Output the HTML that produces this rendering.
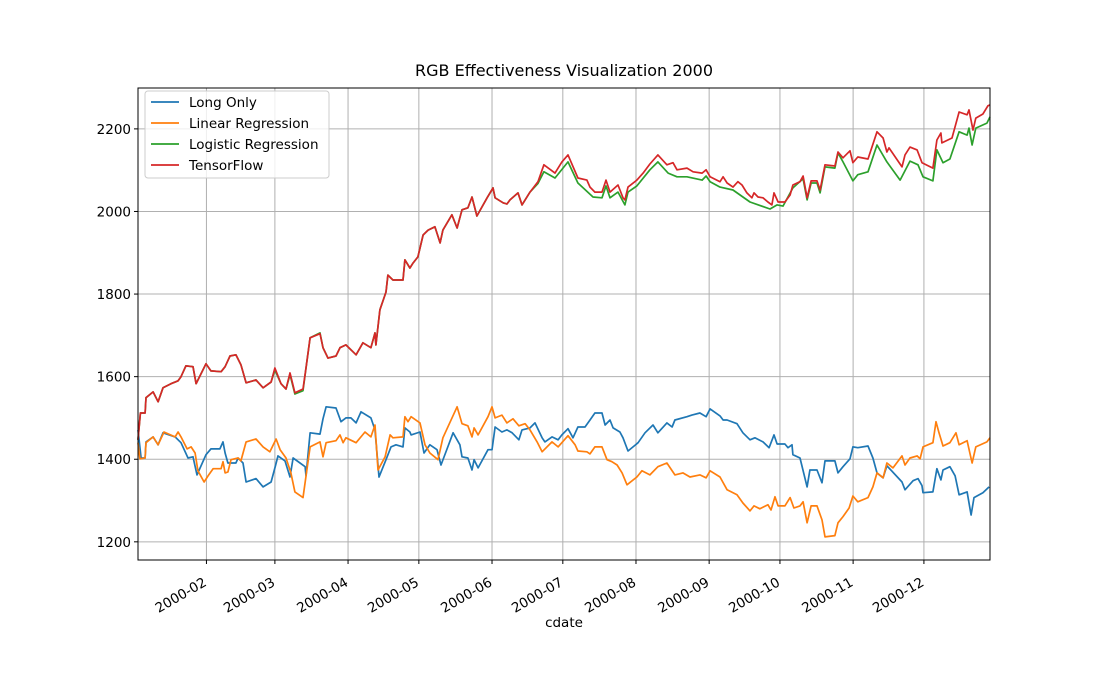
<!DOCTYPE html>
<html><head><meta charset="utf-8"><style>
body{margin:0;background:#fff;}
svg{display:block;font-family:"DejaVu Sans","Liberation Sans",sans-serif;}
</style></head><body>
<svg id="chart" width="1100" height="700" viewBox="0 0 1100 700">
<rect width="1100" height="700" fill="#fff"/>
<text x="564" y="76" text-anchor="middle" font-size="16" fill="#000">RGB Effectiveness Visualization 2000</text>
<g id="grid"></g>
<g id="series"></g>
<rect x="138" y="88" width="852" height="472" fill="none" stroke="#000" stroke-width="1"/>
<g id="axes"></g>
<text x="564" y="627" text-anchor="middle" font-size="13.5" fill="#000">cdate</text>
<g>
<rect x="145" y="91" width="184" height="87" rx="3" fill="#fff" fill-opacity="0.8" stroke="#ccc"/>
<g><line x1="151" y1="102" x2="179" y2="102" stroke="#1f77b4" stroke-width="1.7"/><text x="189" y="107" font-size="13.5">Long Only</text></g>
<g><line x1="151" y1="123" x2="179" y2="123" stroke="#ff7f0e" stroke-width="1.7"/><text x="189" y="128" font-size="13.5">Linear Regression</text></g>
<g><line x1="151" y1="144" x2="179" y2="144" stroke="#2ca02c" stroke-width="1.7"/><text x="189" y="149" font-size="13.5">Logistic Regression</text></g>
<g><line x1="151" y1="165" x2="179" y2="165" stroke="#d62728" stroke-width="1.7"/><text x="189" y="170" font-size="13.5">TensorFlow</text></g>
</g>
</svg>
<script>
// days since 2000-01-03
const monthTickDays = [29,58,89,119,150,180,211,242,272,303,333];
const monthTickLabels = ["2000-02","2000-03","2000-04","2000-05","2000-06","2000-07","2000-08","2000-09","2000-10","2000-11","2000-12"];
const yTicks = [1200,1400,1600,1800,2000,2200];

const redDays = [0,1,3,3.4,6.4,8.5,10.6,14,17,18.2,20.3,23.3,24.6,28.8,30.9,35.2,36.9,39,41.5,43.6,45.8,50,53,56.4,58,60.6,62.7,64.4,66.5,69.9,71.2,72.9,77.1,78.4,80.5,83.9,85.6,88.1,92.4,95.3,98.7,100.4,100.8,102.5,105.1,105.9,108,112.3,113.1,115.2,116.5,118.6,120.8,122.9,125.8,128,129.2,133,135.2,137.3,139.8,141.5,143.6,147.9,150.4,151.3,154.7,156.3,157.6,161,162.7,166.1,169.5,172,176.7,179.6,182.2,186.4,190.2,191.5,193.6,196.6,198.3,200,203.4,205.5,206.3,207.6,211.4,214,216.9,220.3,224.1,226.7,228.4,232.6,235.2,239,240.7,242.4,246.6,247.9,249.6,252.1,254.2,255.9,258,260.1,261,262.7,264.8,266.9,268.6,269.5,271.2,274.1,276.3,277.5,280.5,281.8,283.5,285.2,287.7,289,291.1,295.3,296.6,298.7,301.7,302.9,305,309.3,313.1,315.7,317.3,318.2,323.7,325,327.1,330.1,332.2,336.8,338.5,340.2,340.6,344.9,347.9,351.3,352.1,353.8,355,358,360.1,361];
const redValues = [1447,1512,1512,1549,1563,1539,1573,1583,1590,1600,1626,1624,1583,1631,1614,1612,1624,1650,1653,1629,1585,1592,1573,1587,1621,1583,1570,1609,1561,1570,1621,1694,1704,1670,1645,1650,1670,1677,1653,1682,1670,1706,1677,1762,1805,1846,1834,1834,1883,1863,1875,1890,1943,1955,1963,1924,1955,1992,1960,2004,2009,2035,1989,2033,2057,2033,2021,2018,2028,2045,2016,2047,2072,2113,2093,2120,2137,2081,2076,2059,2047,2047,2076,2047,2064,2033,2028,2059,2076,2093,2115,2137,2113,2118,2101,2105,2096,2093,2101,2084,2072,2084,2069,2059,2072,2064,2045,2033,2045,2035,2033,2023,2016,2045,2023,2023,2040,2064,2072,2086,2033,2074,2074,2052,2113,2110,2144,2130,2147,2118,2132,2127,2193,2178,2144,2154,2108,2137,2156,2149,2118,2105,2173,2190,2166,2178,2241,2234,2246,2197,2226,2236,2256,2258];

const greenDays = [0,1,3,3.4,6.4,8.5,10.6,14,17,18.2,20.3,23.3,24.6,28.8,30.9,35.2,36.9,39,41.5,43.6,45.8,50,53,56.4,58,60.6,62.7,64.4,66.5,69.9,71.2,72.9,77.1,78.4,80.5,83.9,85.6,88.1,92.4,95.3,98.7,100.4,100.8,102.5,105.1,105.9,108,112.3,113.1,115.2,116.5,118.6,120.8,122.9,125.8,128,129.2,133,135.2,137.3,139.8,141.5,143.6,147.9,150.4,151.3,154.7,156.3,157.6,161,162.7,166.1,169.5,172,176.7,182.2,186.4,192.8,196.6,198.3,200,203.4,206.3,207.6,211.4,216.9,220.3,224.6,228.4,232.6,239,240.7,242.4,246.6,252.1,259.3,267.8,270.8,273.3,277.5,281.8,283.5,285.2,287.7,289,291.1,295.3,296.6,298.7,302.9,305,309.3,313.1,317.3,322.9,327.1,330.5,332.6,336.8,338.5,341.1,344,347.9,351.3,352.1,353.4,355,359.7,361];
const greenValues = [1447,1512,1512,1549,1563,1539,1573,1583,1590,1600,1626,1624,1583,1631,1614,1612,1624,1650,1653,1629,1585,1592,1573,1587,1616,1583,1570,1605,1558,1566,1621,1694,1706,1670,1645,1650,1670,1677,1653,1682,1670,1706,1677,1762,1805,1846,1834,1834,1883,1863,1875,1890,1943,1955,1963,1924,1955,1992,1960,2004,2009,2035,1989,2033,2057,2033,2021,2018,2028,2045,2016,2047,2068,2096,2081,2120,2069,2035,2033,2062,2033,2047,2016,2047,2062,2101,2120,2093,2084,2084,2076,2086,2072,2059,2052,2023,2006,2016,2013,2057,2079,2028,2069,2069,2045,2108,2105,2142,2120,2074,2089,2096,2161,2120,2076,2122,2113,2084,2074,2149,2118,2127,2193,2185,2202,2161,2202,2214,2229];

const blueDays = [0,1.3,3,3.4,6.4,8.5,10.6,15.7,18.2,21.2,23.3,25,28.8,30.9,34.7,36,36.9,38.1,41.5,42.4,44.5,45.8,50,53,56.4,58,59.3,62.3,64.4,65.7,70.8,71.2,72.9,77.1,78.4,79.7,83.9,86,88.1,90.2,92.4,94.5,98.7,100.4,102.1,105.1,107.2,109.3,112.3,113.1,115.2,115.7,119.5,121.2,123.7,126.7,128.4,133.5,136.4,137.3,139.8,141.5,142.4,144.1,148.3,150,151.3,154.2,156.3,158.5,161.4,162.7,166.1,168.2,171.2,172.4,175.4,178,179.6,182.2,184.3,186.4,189.4,191.5,193.6,196.6,197.9,200,201.3,204.2,205.5,207.6,211.9,214.8,218.2,220.3,224.1,226.3,227.5,232.6,234.7,238.1,240.7,242.4,246.6,247.9,249.6,253.8,256.3,259.3,261.4,264.8,267.4,269.5,270.8,274.1,275.4,277.1,277.5,280.5,283.5,284.7,287.7,289.8,291.1,295.3,296.6,298.7,301.7,302.9,305,309.3,311.4,313.1,315.7,317.3,323.7,325,328.4,330.5,332.2,332.6,336.8,338.5,340.2,341.1,344,346.2,347.9,351.3,353,354.2,358,360.6];
const blueValues = [1471,1403,1403,1442,1454,1435,1464,1454,1440,1403,1406,1362,1411,1425,1425,1442,1415,1391,1391,1403,1391,1345,1353,1333,1345,1379,1408,1396,1357,1403,1382,1360,1464,1461,1498,1527,1524,1491,1500,1500,1488,1515,1500,1471,1357,1399,1430,1435,1430,1476,1466,1459,1466,1415,1435,1423,1386,1464,1435,1406,1403,1374,1399,1379,1423,1423,1478,1466,1471,1464,1447,1471,1476,1488,1452,1442,1454,1447,1459,1474,1452,1478,1478,1495,1512,1512,1483,1495,1476,1466,1452,1420,1440,1464,1483,1464,1488,1478,1495,1503,1507,1512,1503,1522,1505,1495,1495,1486,1464,1447,1452,1442,1428,1459,1437,1437,1428,1435,1411,1403,1333,1374,1374,1343,1396,1396,1367,1382,1401,1430,1428,1432,1403,1367,1355,1384,1345,1326,1348,1353,1336,1319,1321,1377,1350,1374,1382,1360,1314,1321,1265,1307,1319,1333];

const orangeDays = [0,0.8,3,3.4,6.4,8.5,11,15.7,17,18.2,20.8,22.5,24.2,25.4,28,29.7,31.8,35.2,36,36.9,38.1,39.4,42.4,43.6,45.8,50,53,55.9,58.5,60.2,62.7,64.8,66.5,69.9,72.9,77.1,78.4,79.7,83.9,85.6,86.9,88.1,92.4,96.2,98.7,100.4,101.7,104.7,106.8,108,112.3,113.1,114.4,115.7,119.5,121.6,123.7,127.1,129.2,135.2,137.3,139.8,141.5,142.4,144.1,148.3,150,151.3,154.2,156.3,158.9,161.4,164,166.1,169.1,171.2,175.4,178,182.2,185.2,186.4,190.2,191.5,193.6,196.6,198.7,200.8,203,205.1,207.2,211.4,213.5,216.9,220.3,224.1,227.5,230.9,233.9,238.1,240.7,242.4,246.6,249.6,253.8,256.3,259.3,261,263.5,266.9,268.2,269.9,271.2,274.1,276.3,277.9,280.5,281.8,283.5,285.2,287.7,289.8,291.1,295.3,296.6,298.7,301.3,302.9,305,309.3,311.4,313.1,315.7,317.3,319.9,323.7,325,327.1,330.1,331.4,332.6,336.8,338.1,339.4,341.1,344,346.6,347.9,351.3,353.4,355,359.7,361];
const orangeValues = [1440,1401,1403,1440,1454,1435,1466,1454,1466,1454,1425,1430,1415,1372,1345,1360,1377,1377,1394,1367,1369,1399,1403,1396,1442,1449,1430,1418,1449,1423,1403,1367,1321,1307,1430,1442,1406,1440,1445,1459,1440,1452,1440,1466,1454,1483,1374,1406,1459,1452,1454,1503,1491,1503,1488,1435,1415,1399,1452,1527,1486,1481,1454,1476,1459,1503,1527,1500,1507,1488,1498,1481,1486,1471,1442,1418,1442,1430,1457,1435,1420,1418,1413,1430,1430,1399,1394,1386,1367,1338,1357,1372,1362,1382,1391,1362,1367,1357,1362,1355,1372,1357,1326,1314,1294,1275,1287,1280,1290,1277,1309,1287,1287,1307,1282,1287,1297,1246,1287,1287,1253,1212,1215,1246,1261,1282,1311,1297,1307,1333,1367,1355,1391,1379,1408,1386,1403,1408,1401,1430,1440,1491,1464,1432,1440,1464,1435,1445,1391,1430,1442,1452];

const NS = "http://www.w3.org/2000/svg";
const X0 = 138, X1 = 990, Y0 = 560, Y1 = 88;
const dMin = 0, dMax = 361, vMin = 1156, vMax = 2299;
function xScale(d){ return X0 + (d - dMin) / (dMax - dMin) * (X1 - X0); }
function yScale(v){ return Y0 - (v - vMin) / (vMax - vMin) * (Y0 - Y1); }

const grid = document.getElementById('grid');
const axes = document.getElementById('axes');
const series = document.getElementById('series');

monthTickDays.forEach((d, i) => {
  const x = xScale(d);
  const gl = document.createElementNS(NS, 'line');
  gl.setAttribute('x1', x); gl.setAttribute('x2', x);
  gl.setAttribute('y1', Y1); gl.setAttribute('y2', Y0);
  gl.setAttribute('stroke', '#b0b0b0'); gl.setAttribute('stroke-width', '1');
  
  
  grid.appendChild(gl);
  const tk = document.createElementNS(NS, 'line');
  tk.setAttribute('x1', x); tk.setAttribute('x2', x);
  tk.setAttribute('y1', Y0); tk.setAttribute('y2', Y0 + 4);
  tk.setAttribute('stroke', '#000');
  
  
  axes.appendChild(tk);
  const t = document.createElementNS(NS, 'text');
  const ax = x - 3, ay = 578;
  t.setAttribute('x', ax); t.setAttribute('y', ay + 8);
  t.setAttribute('text-anchor', 'end');
  t.setAttribute('font-size', '13.5');
  t.setAttribute('transform', 'rotate(-30 ' + ax + ' ' + ay + ')');
  t.textContent = monthTickLabels[i];
  
  
  axes.appendChild(t);
});

yTicks.forEach(v => {
  const y = yScale(v);
  const gl = document.createElementNS(NS, 'line');
  gl.setAttribute('x1', X0); gl.setAttribute('x2', X1);
  gl.setAttribute('y1', y); gl.setAttribute('y2', y);
  gl.setAttribute('stroke', '#b0b0b0'); gl.setAttribute('stroke-width', '1');
  
  
  grid.appendChild(gl);
  const tk = document.createElementNS(NS, 'line');
  tk.setAttribute('x1', X0 - 4); tk.setAttribute('x2', X0);
  tk.setAttribute('y1', y); tk.setAttribute('y2', y);
  tk.setAttribute('stroke', '#000');
  
  
  axes.appendChild(tk);
  const t = document.createElementNS(NS, 'text');
  t.setAttribute('x', X0 - 7); t.setAttribute('y', y + 5);
  t.setAttribute('text-anchor', 'end');
  t.setAttribute('font-size', '13.5');
  t.textContent = v;
  
  
  axes.appendChild(t);
});

function drawLine(days, vals, color, name){
  const pts = days.map((d, i) => xScale(d).toFixed(1) + ',' + yScale(vals[i]).toFixed(1)).join(' ');
  const pl = document.createElementNS(NS, 'polyline');
  pl.setAttribute('points', pts);
  pl.setAttribute('fill', 'none');
  pl.setAttribute('stroke', color);
  pl.setAttribute('stroke-width', '1.7');
  pl.setAttribute('stroke-linejoin', 'round');
  
  
  series.appendChild(pl);
}
drawLine(blueDays, blueValues, '#1f77b4', 'long-only-line');
drawLine(orangeDays, orangeValues, '#ff7f0e', 'linear-regression-line');
drawLine(greenDays, greenValues, '#2ca02c', 'logistic-regression-line');
drawLine(redDays, redValues, '#d62728', 'tensorflow-line');
</script>
</body></html>
